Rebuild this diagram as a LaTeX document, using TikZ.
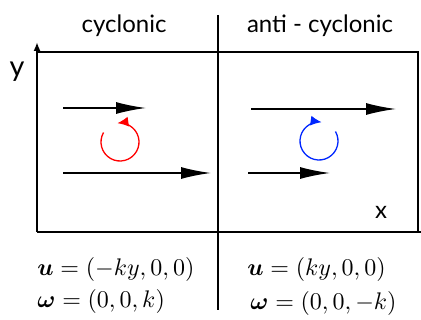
\documentclass[tikz,border=0pt]{standalone}
\usepackage{bm}
\usepackage{fontspec}
\setsansfont{Lato}
\usetikzlibrary{arrows.meta,calc}
\begin{document}
\begin{tikzpicture}[x=1pt,y=-1pt,
  eq/.style={scale=2.4, inner sep=0pt, anchor=west},
  flow/.style={line width=1.6pt, -{Latex[length=30pt,width=12pt]}},
  spin/.style={line width=1.3pt, -{Latex[length=11pt,width=10pt]}},
  frame/.style={line width=1.6pt},
  axis/.style={line width=2.6pt}]
\tikzset{titletext/.style={inner sep=0pt, font=\sffamily, scale=2.4}}
\useasboundingbox (0,0) rectangle (421,320);
% frame
\coordinate (tl) at (37,52);
\coordinate (tr) at (418,52);
\coordinate (br) at (418,232);
\coordinate (bl) at (37,232);
\coordinate (ytip) at (37,42);
\coordinate (xtip) at (421,232);
\coordinate (dtop) at (218,15);
\coordinate (dbot) at (218,310);
\draw[frame] (tl) -- (tr) -- (br);
\draw[axis, -{Latex[length=9pt,width=7pt]}] (bl) -- (ytip);
\draw[axis] (bl) -- (xtip);
\draw[frame] (dtop) -- (dbot);
% labels
\node[titletext] (cyc) at (124,26) {cyclonic};
\node[titletext] (anti) at (320,26) {anti - cyclonic};
\node[titletext, scale=1.2] (ylab) at (17,72) {y};
\node[titletext] (xlab) at (381,212) {x};
% left flows
\coordinate (l1s) at (63,108); \coordinate (l1e) at (146,108);
\coordinate (l2s) at (63,173); \coordinate (l2e) at (211,173);
\draw[flow] (l1s) -- (l1e);
\draw[flow] (l2s) -- (l2e);
% right flows
\coordinate (r1s) at (251,109); \coordinate (r1e) at (396,109);
\coordinate (r2s) at (248,173); \coordinate (r2e) at (330,173);
\draw[flow] (r1s) -- (r1e);
\draw[flow] (r2s) -- (r2e);
% spins
\coordinate (rc) at (120,142);
\coordinate (bc) at (319,141);
\draw[spin, red] ($(rc)+(-150:19)$) arc[start angle=-150, end angle=-458, radius=19];
\draw[spin, blue!85!cyan] ($(bc)+(-30:19)$) arc[start angle=-30, end angle=278, radius=19];
% equations
\node[eq] (ul) at (37,270) {$\bm{u}=(-ky,0,0)$};
\node[eq] (wl) at (37,302) {$\bm{\omega}=(0,0,k)$};
\node[eq] (ur) at (247,270) {$\bm{u}=(ky,0,0)$};
\node[eq] (wr) at (250,304) {$\bm{\omega}=(0,0,-k)$};
\end{tikzpicture}
\end{document}
